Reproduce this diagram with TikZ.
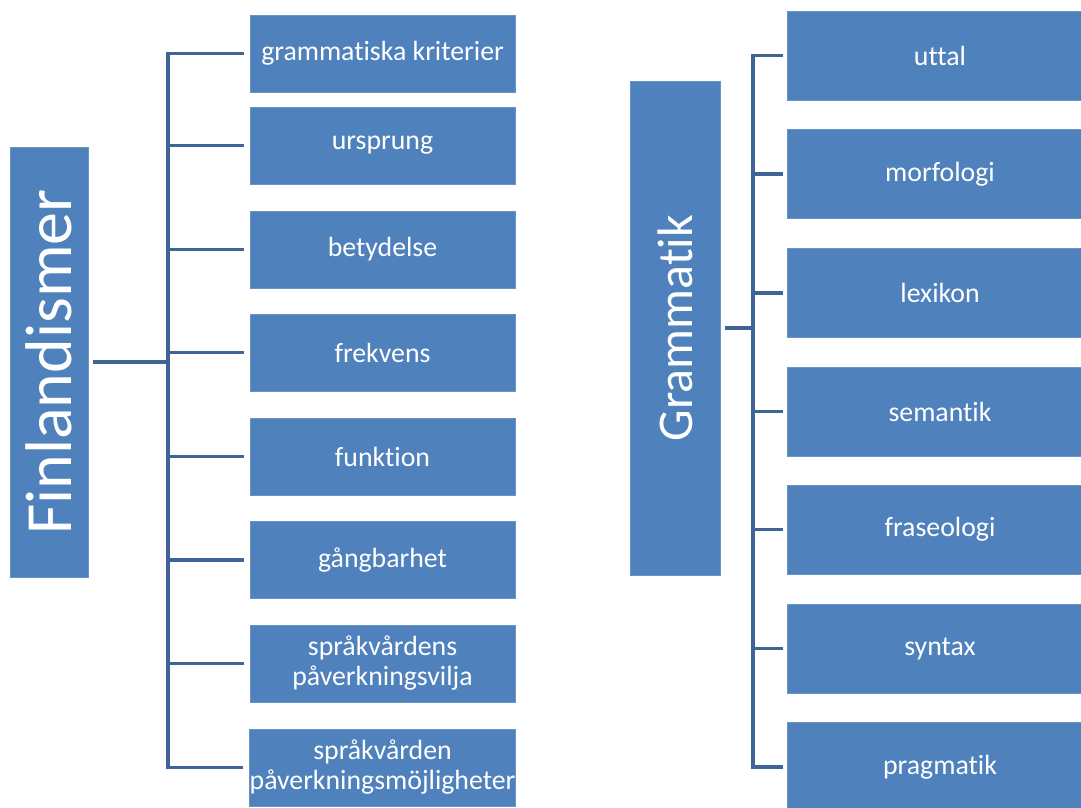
\documentclass[tikz,border=0pt]{standalone}
\usepackage{fontspec}
\setmainfont{Carlito}[Ligatures=NoCommon]
\definecolor{boxblue}{HTML}{4F81BD}
\definecolor{linkblue}{HTML}{3F6596}
\begin{document}
\begin{tikzpicture}[x=1pt, y=-1pt,
	leaf/.style={fill=boxblue, draw=boxblue!85!white, line width=0.6pt, text=white, align=center, inner sep=0pt, font=\fontsize{27.8}{30}\selectfont},
	leftleaf/.style={leaf, minimum width=265pt, minimum height=77pt},
	rightleaf/.style={leaf, minimum width=306pt, minimum height=89pt},
	root/.style={fill=boxblue, draw=boxblue!85!white, line width=0.6pt, text=white, rotate=90, inner sep=0pt},
	link/.style={draw=linkblue, line width=3.8pt}]
			\useasboundingbox (0,0) rectangle (1081,807);
			%\draw[help lines, step=50] (0,0) grid (1081,807);
			\node[root, minimum width=430pt, minimum height=78pt, font=\fontsize{66}{70}\selectfont] (finl) at (49,362) {Finlandismer};
			\node[leftleaf] (krit) at (382.5,53.5) {grammatiska kriterier};
			\node[leftleaf] (urspr) at (382.5,145.5) {ursprung};
			\node[leftleaf] (betyd) at (382.5,249.5) {betydelse};
			\node[leftleaf] (frekv) at (382.5,352.5) {frekvens};
			\node[leftleaf] (funk) at (382.5,456.5) {funktion};
			\node[leftleaf] (gang) at (382.5,560) {gångbarhet};
			\node[leftleaf] (vilja) at (382.5,663.5) {språkvårdens\\påverkningsvilja};
			\node[leftleaf] (mojl) at (382.5,767.5) {språkvården\\påverkningsmöjligheter};
			\node[root, minimum width=494pt, minimum height=90pt, font=\fontsize{50}{54}\selectfont] (gramm) at (675,328) {Grammatik};
			\node[rightleaf] (uttal) at (940,55.5) {uttal};
			\node[rightleaf] (morf) at (940,174) {morfologi};
			\node[rightleaf] (lex) at (940,293) {lexikon};
			\node[rightleaf] (sem) at (940,411.5) {semantik};
			\node[rightleaf] (fras) at (940,529.5) {fraseologi};
			\node[rightleaf] (synt) at (940,648.5) {syntax};
			\node[rightleaf] (prag) at (940,767) {pragmatik};
			\coordinate (fbus) at (168,362);
			\coordinate (gbus) at (753,328);
			\draw[link, shorten <=5pt] (finl) -- (fbus);
			\draw[link, line cap=rect] (fbus |- krit) -- (fbus |- mojl);
			\draw[link, shorten >=6pt] (fbus |- krit) -- (krit);
			\draw[link, shorten >=6pt] (fbus |- urspr) -- (urspr);
			\draw[link, shorten >=6pt] (fbus |- betyd) -- (betyd);
			\draw[link, shorten >=6pt] (fbus |- frekv) -- (frekv);
			\draw[link, shorten >=6pt] (fbus |- funk) -- (funk);
			\draw[link, shorten >=6pt] (fbus |- gang) -- (gang);
			\draw[link, shorten >=6pt] (fbus |- vilja) -- (vilja);
			\draw[link, shorten >=6pt] (fbus |- mojl) -- (mojl);
			\draw[link, shorten <=5pt] (gramm) -- (gbus);
			\draw[link, line cap=rect] (gbus |- uttal) -- (gbus |- prag);
			\draw[link, shorten >=4pt] (gbus |- uttal) -- (uttal);
			\draw[link, shorten >=4pt] (gbus |- morf) -- (morf);
			\draw[link, shorten >=4pt] (gbus |- lex) -- (lex);
			\draw[link, shorten >=4pt] (gbus |- sem) -- (sem);
			\draw[link, shorten >=4pt] (gbus |- fras) -- (fras);
			\draw[link, shorten >=4pt] (gbus |- synt) -- (synt);
			\draw[link, shorten >=4pt] (gbus |- prag) -- (prag);
		\end{tikzpicture}
\end{document}
